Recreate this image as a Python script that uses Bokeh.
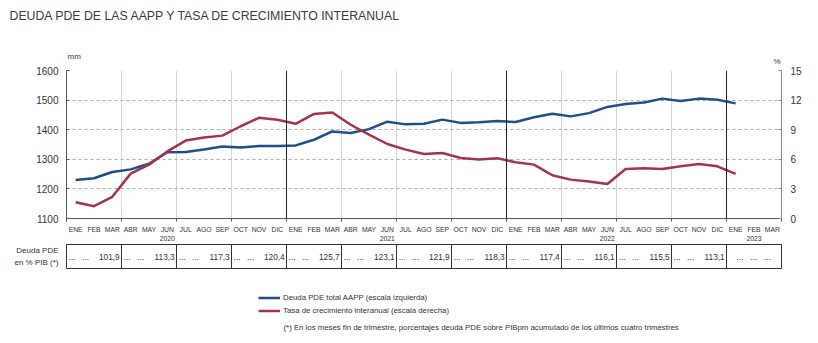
from bokeh.plotting import figure
from bokeh.models import (Range1d, LinearAxis, FixedTicker, Span, Label, Legend,
                          LegendItem, Grid)
from bokeh.layouts import column
from bokeh.embed import file_html
from bokeh.resources import INLINE
from bokeh.core.properties import value

# ---------------- data ----------------
months = ["ENE", "FEB", "MAR", "ABR", "MAY", "JUN", "JUL", "AGO", "SEP", "OCT", "NOV", "DIC"]
years = ["2020", "2021", "2022", "2023"]
months_in_year = [12, 12, 12, 3]

# Deuda PDE total AAPP (mm de euros), escala izquierda
deuda = [1230, 1236, 1257, 1266, 1285, 1324, 1325, 1333, 1343, 1340, 1345, 1345,
         1347, 1366, 1394, 1389, 1402, 1427, 1418, 1420, 1434, 1423, 1425, 1429,
         1426, 1442, 1454, 1445, 1456, 1477, 1487, 1492, 1505, 1497, 1505, 1501,
         1489]
# Tasa de crecimiento interanual (%), escala derecha
tasa = [1.65, 1.25, 2.2, 4.55, 5.46, 6.8, 7.9, 8.2, 8.4, 9.35, 10.2, 10.0,
        9.6, 10.6, 10.75, 9.5, 8.5, 7.55, 6.98, 6.54, 6.64, 6.13, 5.97, 6.1,
        5.7, 5.46, 4.38, 3.94, 3.74, 3.5, 5.02, 5.09, 5.02, 5.29, 5.53, 5.29,
        4.52]
# Deuda PDE en % PIB (fin de trimestre)
pct_pib = [101.9, 113.3, 117.3, 120.4, 125.7, 123.1, 121.9, 118.3, 117.4, 116.1, 115.5, 113.1, None]

left_ticks = [1100, 1200, 1300, 1400, 1500, 1600]
right_ticks = [0, 3, 6, 9, 12, 15]

title_text = "DEUDA PDE DE LAS AAPP Y TASA DE CRECIMIENTO INTERANUAL"
legend_labels = ["Deuda PDE total AAPP (escala izquierda)", "Tasa de crecimiento interanual (escala derecha)"]
footnote = "(*) En los meses fin de trimestre, porcentajes deuda PDE sobre PIBpm acumulado de los últimos cuatro trimestres"
row_labels = ["Deuda PDE", "en % PIB (*)"]

BLUE = "#1f4e8a"
RED = "#a3344c"
TXT = "#333333"
FONT = "Liberation Sans"

W = 818
n = sum(months_in_year)
xs = [i + 0.5 for i in range(n)]
nq = n // 3
quarter_edges = [3 * q for q in range(nq + 1)]
year_edges = []
year_ticks = []
acc = 0
for cnt in months_in_year:
    year_ticks.append(acc + (cnt - 1) // 2 + 0.5)
    acc += cnt
    if acc < n:
        year_edges.append(acc)

# ---------------- header (title + units) ----------------
pT = figure(width=W, height=65, x_range=Range1d(0, 1), y_range=Range1d(0, 1),
            output_backend="svg", toolbar_location=None, x_axis_location=None, y_axis_location=None,
            min_border=0, frame_align=False)
pT.outline_line_color = None
pT.grid.visible = False
pT.background_fill_color = "white"
pT.border_fill_color = "white"
pT.add_layout(Label(x=9, y=50, x_units="screen", y_units="screen", text=title_text,
                    text_font=FONT, text_font_size="12.3px", text_color="#3a3a3a", text_baseline="middle"))
pT.add_layout(Label(x=67, y=9, x_units="screen", y_units="screen", text="mm",
                    text_font=FONT, text_font_size="8px", text_color=TXT, text_baseline="middle"))
pT.add_layout(Label(x=773, y=4, x_units="screen", y_units="screen", text="%",
                    text_font=FONT, text_font_size="8px", text_color=TXT, text_baseline="middle"))

# ---------------- main chart ----------------
pA = figure(width=W, height=178, x_range=Range1d(0, n), y_range=Range1d(left_ticks[0], left_ticks[-1]),
            output_backend="svg", toolbar_location=None,
            min_border_left=66, min_border_right=37, min_border_top=5, min_border_bottom=24)
pA.outline_line_color = None
pA.background_fill_color = "white"
pA.border_fill_color = "white"
pA.extra_y_ranges = {"pct": Range1d(right_ticks[0], right_ticks[-1])}

# grids
pA.ygrid.ticker = FixedTicker(ticks=left_ticks)
pA.ygrid.grid_line_color = "#a8a8a8"
pA.ygrid.grid_line_dash = "3 3"
pA.ygrid.grid_line_width = 1
pA.xgrid.ticker = FixedTicker(ticks=[e for e in quarter_edges if e not in year_edges and 0 < e < n])
pA.xgrid.grid_line_color = "#d4d4d4"
pA.xgrid.grid_line_width = 1
for e in year_edges:
    pA.add_layout(Span(location=e, dimension="height", line_color="#222222", line_width=1))

# left axis
ya = pA.yaxis[0]
ya.ticker = FixedTicker(ticks=left_ticks)
ya.axis_line_color = "#555555"
ya.major_tick_line_color = "#555555"
ya.major_tick_in = 3
ya.major_tick_out = 0
ya.minor_tick_line_color = None
ya.major_label_standoff = 8
ya.major_label_text_font = FONT
ya.major_label_text_font_size = "10px"
ya.major_label_text_color = TXT

# right axis
ra = LinearAxis(y_range_name="pct", ticker=FixedTicker(ticks=right_ticks))
ra.axis_line_color = "#888888"
ra.major_tick_line_color = "#888888"
ra.major_tick_in = 3
ra.major_tick_out = 0
ra.minor_tick_line_color = None
ra.major_label_standoff = 9
ra.major_label_text_font = FONT
ra.major_label_text_font_size = "10px"
ra.major_label_text_color = TXT
pA.add_layout(ra, "right")

# bottom month axis
xa = pA.xaxis[0]
xa.ticker = FixedTicker(ticks=xs, minor_ticks=quarter_edges)
xa.major_label_overrides = {xs[i]: months[i % 12] for i in range(n)}
xa.axis_line_color = "#555555"
xa.major_tick_line_color = None
xa.major_tick_out = 0
xa.major_tick_in = 0
xa.minor_tick_line_color = "#555555"
xa.minor_tick_out = 3
xa.minor_tick_in = 0
xa.major_label_standoff = 4
xa.major_label_text_font = FONT
xa.major_label_text_font_size = "6.8px"
xa.major_label_text_color = TXT

# year axis
yx = LinearAxis(ticker=FixedTicker(ticks=year_ticks))
yx.major_label_overrides = {year_ticks[i]: years[i] for i in range(len(years))}
yx.axis_line_color = None
yx.major_tick_line_color = None
yx.minor_tick_line_color = None
yx.major_tick_out = 0
yx.major_tick_in = 0
yx.major_label_standoff = 0
yx.major_label_text_font = FONT
yx.major_label_text_font_size = "6.8px"
yx.major_label_text_color = TXT
pA.add_layout(yx, "below")

# series
pA.line(xs, deuda, line_color=BLUE, line_width=2.5)
pA.line(xs, tasa, y_range_name="pct", line_color=RED, line_width=2.5)

# ---------------- table row ----------------
pB = figure(width=W, height=27, x_range=pA.x_range, y_range=Range1d(0, 1),
            output_backend="svg", toolbar_location=None, x_axis_location=None,
            min_border_left=66, min_border_right=37, min_border_top=1, min_border_bottom=2)
pB.outline_line_color = "#333333"
pB.outline_line_width = 1
pB.background_fill_color = "white"
pB.border_fill_color = "white"
pB.ygrid.visible = False
pB.xgrid.visible = False
pB.add_layout(Grid(dimension=0, ticker=FixedTicker(ticks=[e for e in quarter_edges if 0 < e < n]),
                   grid_line_color="#333333", grid_line_width=1))
yb = pB.yaxis[0]
yb.ticker = FixedTicker(ticks=[0.75, 0.25])
yb.major_label_overrides = {0.75: row_labels[0], 0.25: row_labels[1]}
yb.axis_line_color = None
yb.major_tick_line_color = None
yb.minor_tick_line_color = None
yb.major_label_standoff = 2
yb.major_label_text_font = FONT
yb.major_label_text_font_size = "8px"
yb.major_label_text_color = TXT

val_x, val_t, dot_x, dot_t = [], [], [], []
for q, v in enumerate(pct_pib):
    if v is None:
        for k in range(3):
            dot_x.append(3 * q + 0.55 + 0.75 * k)
            dot_t.append("...")
    else:
        dot_x += [3 * q + 0.12, 3 * q + 0.85]
        dot_t += ["...", "..."]
        val_x.append(3 * q + 2.9)
        val_t.append(f"{v:.1f}".replace(".", ","))
pB.text(x=val_x, y=[0.5] * len(val_x), text=val_t, text_align="right", text_baseline="middle",
        text_font=value(FONT), text_font_size="8.3px", text_color=TXT)
pB.text(x=dot_x, y=[0.5] * len(dot_x), text=dot_t, text_align="left", text_baseline="middle",
        text_font=value(FONT), text_font_size="8.3px", text_color=TXT)

# ---------------- legend ----------------
pC = figure(width=W, height=73, x_range=Range1d(0, 1), y_range=Range1d(0, 1),
            output_backend="svg", toolbar_location=None, x_axis_location=None, y_axis_location=None,
            min_border=0, frame_align=False)
pC.outline_line_color = None
pC.grid.visible = False
pC.background_fill_color = "white"
pC.border_fill_color = "white"
# legend proxies: same series, lying outside this panel's ranges (only the legend swatch shows)
r1 = pC.line(xs, deuda, line_color=BLUE, line_width=2.5)
r2 = pC.line(xs, tasa, line_color=RED, line_width=2.5)
leg = Legend(items=[LegendItem(label=legend_labels[0], renderers=[r1]),
                    LegendItem(label=legend_labels[1], renderers=[r2])],
             location=(258, 26.5), orientation="vertical", padding=0, margin=0, spacing=0,
             glyph_width=22, glyph_height=13, label_height=13, label_standoff=3,
             label_text_font=FONT, label_text_font_size="7.8px", label_text_color=TXT,
             border_line_color=None, background_fill_alpha=0)
pC.add_layout(leg)
pC.add_layout(Label(x=283, y=16, x_units="screen", y_units="screen", text=footnote,
                    text_font=FONT, text_font_size="7.8px", text_color=TXT, text_baseline="middle"))

layout = column(pT, pA, pB, pC, spacing=0)
open("out.html", "w").write(file_html(layout, INLINE))
